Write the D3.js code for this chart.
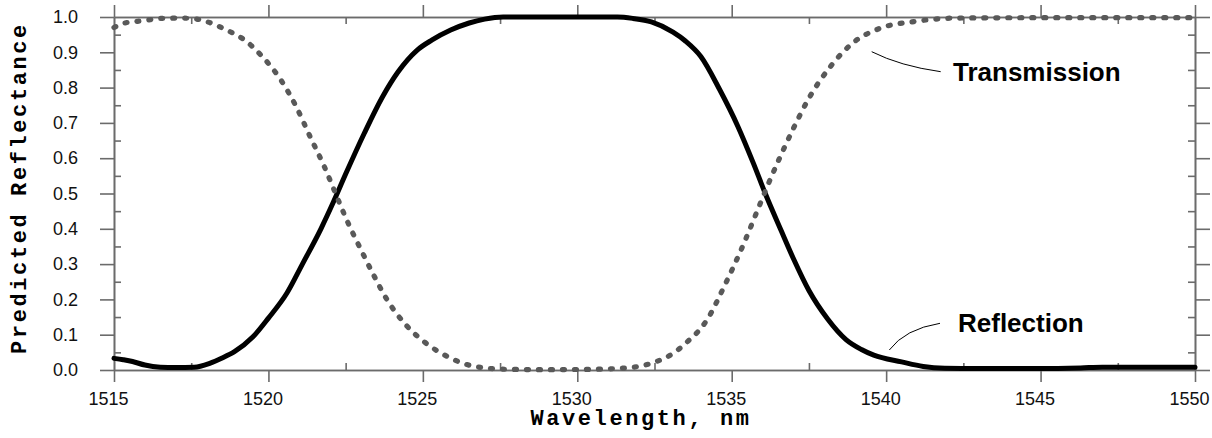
<!DOCTYPE html>
<html>
<head>
<meta charset="utf-8">
<script src="https://cdn.jsdelivr.net/npm/d3@7"></script>
<style>
  html, body { margin: 0; padding: 0; background: #fff; }
  svg { display: block; }
</style>
</head>
<body>
<svg id="chart" width="1212" height="438"></svg>
<script>
// ---- data ----
const reflWavelength = [1515, 1515.3, 1515.6, 1516.0, 1516.5, 1517.0, 1517.6, 1518.1, 1518.5, 1518.9, 1519.5, 1520.0, 1520.6, 1521.1, 1521.7, 1522.1, 1522.5, 1523.1, 1523.7, 1524.2, 1524.8, 1525.3, 1525.9, 1526.5, 1527.0, 1527.6, 1528.5, 1529.5, 1530.5, 1531.3, 1531.8, 1532.4, 1533.1, 1533.5, 1534.0, 1534.6, 1535.2, 1535.7, 1536.1, 1536.6, 1537.0, 1537.5, 1538.1, 1538.7, 1539.2, 1539.6, 1540.5, 1541.2, 1541.9, 1543, 1545, 1546.3, 1547, 1550];
const reflValue = [0.033, 0.029, 0.024, 0.014, 0.008, 0.007, 0.008, 0.019, 0.034, 0.052, 0.094, 0.147, 0.218, 0.300, 0.400, 0.475, 0.555, 0.670, 0.775, 0.845, 0.905, 0.935, 0.963, 0.983, 0.994, 1.0, 1.0, 1.0, 1.0, 1.0, 0.996, 0.986, 0.957, 0.932, 0.888, 0.796, 0.690, 0.586, 0.497, 0.395, 0.315, 0.225, 0.145, 0.086, 0.058, 0.042, 0.023, 0.010, 0.005, 0.004, 0.004, 0.006, 0.008, 0.008];

const transWavelength = [1515, 1515.3, 1516.0, 1516.5, 1517.1, 1517.6, 1518.0, 1518.6, 1519.3, 1519.8, 1520.4, 1520.9, 1521.35, 1521.8, 1522.15, 1522.5, 1523.0, 1523.4, 1523.8, 1524.5, 1525.1, 1525.8, 1526.4, 1527.1, 1527.7, 1529, 1530.5, 1531.6, 1532.5, 1533.1, 1533.5, 1534.2, 1534.8, 1535.4, 1535.8, 1536.15, 1536.6, 1537.0, 1537.5, 1538.2, 1538.9, 1539.8, 1540.9, 1542.3, 1545, 1550];
const transValue = [0.970, 0.982, 0.990, 0.996, 0.997, 0.995, 0.987, 0.965, 0.930, 0.888, 0.822, 0.746, 0.661, 0.578, 0.505, 0.432, 0.340, 0.270, 0.205, 0.123, 0.076, 0.038, 0.016, 0.005, 0.002, 0.001, 0.002, 0.006, 0.022, 0.047, 0.075, 0.142, 0.245, 0.360, 0.445, 0.520, 0.610, 0.685, 0.770, 0.860, 0.925, 0.968, 0.987, 0.997, 0.998, 0.998];

const xMajorTicks = [1515, 1520, 1525, 1530, 1535, 1540, 1545, 1550];
const xMinorTicks = [1517.5, 1522.5, 1527.5, 1532.5, 1537.5, 1542.5, 1547.5];
const yMajorTicks = [0.0, 0.1, 0.2, 0.3, 0.4, 0.5, 0.6, 0.7, 0.8, 0.9, 1.0];
const yMinorTicks = [0.05, 0.15, 0.25, 0.35, 0.45, 0.55, 0.65, 0.75, 0.85, 0.95];

const xLabel = "Wavelength, nm";
const yLabel = "Predicted Reflectance";
const transLabel = "Transmission";
const reflLabel = "Reflection";

// ---- layout ----
const L = 114, R = 1195, T = 17, B = 370;
const axisColor = "#6b6b6b";
const svg = d3.select("#chart");

const x = d3.scaleLinear().domain([1515, 1550]).range([L, R]);
const y = d3.scaleLinear().domain([0, 1]).range([B, T]);

function styleAxis(g) {
  g.select(".domain").attr("stroke", axisColor).attr("stroke-width", 1.6);
  g.selectAll(".tick line").attr("stroke", axisColor).attr("stroke-width", 1.6);
}

// major axes with labels
const gLeft = svg.append("g").attr("transform", `translate(${L},0)`)
  .call(d3.axisLeft(y).tickValues(yMajorTicks).tickSize(14).tickSizeOuter(0).tickPadding(22).tickFormat(d3.format(".1f")));
const gBottom = svg.append("g").attr("transform", `translate(0,${B})`)
  .call(d3.axisBottom(x).tickValues(xMajorTicks).tickSize(12).tickSizeOuter(0).tickFormat(d3.format("d")));
const gRight = svg.append("g").attr("transform", `translate(${R},0)`)
  .call(d3.axisRight(y).tickValues(yMajorTicks).tickSize(15).tickSizeOuter(0).tickFormat(""));
const gTop = svg.append("g").attr("transform", `translate(0,${T})`)
  .call(d3.axisTop(x).tickValues(xMajorTicks).tickSize(12).tickSizeOuter(0).tickFormat(""));
// minor inward ticks
const gLeftMin = svg.append("g").attr("transform", `translate(${L},0)`)
  .call(d3.axisRight(y).tickValues(yMinorTicks).tickSize(7).tickSizeOuter(0).tickFormat(""));
const gRightMin = svg.append("g").attr("transform", `translate(${R},0)`)
  .call(d3.axisLeft(y).tickValues(yMinorTicks).tickSize(7).tickSizeOuter(0).tickFormat(""));
const gBottomMin = svg.append("g").attr("transform", `translate(0,${B})`)
  .call(d3.axisTop(x).tickValues(xMinorTicks).tickSize(7).tickSizeOuter(0).tickFormat(""));
const gTopMin = svg.append("g").attr("transform", `translate(0,${T})`)
  .call(d3.axisBottom(x).tickValues(xMinorTicks).tickSize(7).tickSizeOuter(0).tickFormat(""));

[gLeft, gBottom, gRight, gTop, gLeftMin, gRightMin, gBottomMin, gTopMin].forEach(styleAxis);

const tickFont = "'Liberation Sans', Arial, sans-serif";
gLeft.selectAll(".tick text")
  .attr("font-family", tickFont).attr("font-size", 18).attr("fill", "#111");
gBottom.selectAll(".tick text")
  .attr("font-family", tickFont).attr("font-size", 18).attr("fill", "#111")
  .attr("x", -6).attr("y", 35).attr("dy", 0);

// ---- curves ----
const reflData = reflWavelength.map((w, i) => ({ w, v: reflValue[i] }));
const transData = transWavelength.map((w, i) => ({ w, v: transValue[i] }));

const line = d3.line().x(d => x(d.w)).y(d => y(d.v)).curve(d3.curveMonotoneX);

svg.append("path").datum(reflData)
  .attr("d", line)
  .attr("fill", "none").attr("stroke", "#000").attr("stroke-width", 5)
  .attr("stroke-linejoin", "round").attr("stroke-linecap", "round");

svg.append("path").datum(transData)
  .attr("d", line)
  .attr("fill", "none").attr("stroke", "#595959").attr("stroke-width", 5.2)
  .attr("stroke-dasharray", "2 10").attr("stroke-linecap", "round");

// ---- annotations ----
svg.append("path")
  .attr("d", "M871.7,51.7 Q900,66 940.7,71.7")
  .attr("fill", "none").attr("stroke", "#000").attr("stroke-width", 1);
svg.append("path")
  .attr("d", "M889.3,350 Q905,329 940,323.3")
  .attr("fill", "none").attr("stroke", "#000").attr("stroke-width", 1);

svg.append("text").text(transLabel)
  .attr("x", 953).attr("y", 81)
  .attr("font-family", tickFont).attr("font-weight", "bold").attr("font-size", 26).attr("fill", "#000");
svg.append("text").text(reflLabel)
  .attr("x", 958).attr("y", 332)
  .attr("font-family", tickFont).attr("font-weight", "bold").attr("font-size", 26).attr("fill", "#000");

// ---- axis titles ----
const monoFont = "'Liberation Mono', 'Courier New', monospace";
svg.append("text").text(xLabel)
  .attr("x", 641).attr("y", 425)
  .attr("text-anchor", "middle")
  .attr("font-family", monoFont).attr("font-weight", "bold").attr("font-size", 22)
  .attr("letter-spacing", 2.6).attr("fill", "#000");
svg.append("text").text(yLabel)
  .attr("transform", "translate(26,188) rotate(-90)")
  .attr("text-anchor", "middle")
  .attr("font-family", monoFont).attr("font-weight", "bold").attr("font-size", 22)
  .attr("letter-spacing", 2.6).attr("fill", "#000");
</script>
</body>
</html>
